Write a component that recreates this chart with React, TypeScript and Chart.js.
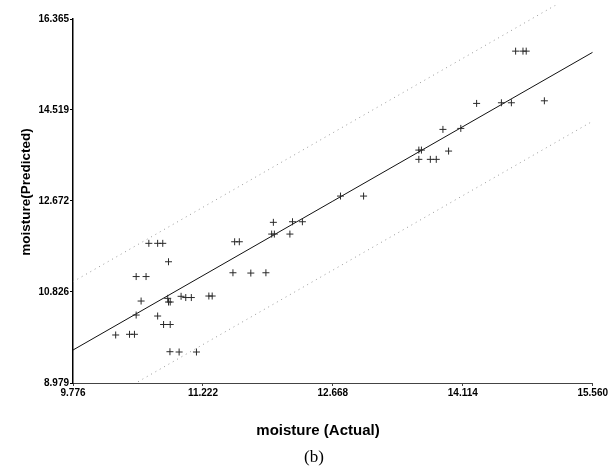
import React, { useEffect, useRef } from "react";
import { Chart, registerables } from "chart.js";

Chart.register(...registerables);

const xTickValues = [9.776, 11.222, 12.668, 14.114, 15.56];
const yTickValues = [8.979, 10.826, 12.672, 14.519, 16.365];

const actual = [
  10.251, 10.405, 10.46, 10.479, 10.479, 10.589, 10.534, 10.62, 10.718, 10.775,
  10.718, 10.784, 10.858, 10.839, 10.83, 10.839, 10.858, 10.855, 10.957, 11.15,
  10.979, 11.031, 11.093, 11.288, 11.325, 11.556, 11.575, 11.627, 11.755, 11.923,
  11.987, 12.017, 12.006, 12.19, 12.219, 12.329, 12.753, 13.01, 13.625, 13.753,
  13.819, 13.625, 13.654, 13.956, 13.893, 14.092, 14.268, 14.544, 14.655, 15.022,
  14.702, 14.784, 14.82,
];
const predicted = [
  9.953, 9.967, 9.967, 10.358, 11.139, 11.139, 10.642, 11.813, 11.813, 11.813,
  10.338, 10.166, 10.166, 11.439, 10.697, 10.622, 10.622, 9.614, 9.608, 9.608,
  10.738, 10.713, 10.713, 10.744, 10.744, 11.216, 11.845, 11.845, 11.21, 11.216,
  12.001, 12.001, 12.239, 12.001, 12.251, 12.251, 12.772, 12.772, 13.517, 13.517,
  13.517, 13.705, 13.705, 13.685, 14.125, 14.145, 14.652, 14.665, 14.665, 14.705,
  15.713, 15.713, 15.713,
];

const lineX = [9.776, 15.56];
const fitY = [9.648, 15.69];
const upperY = [11.034, 17.078];
const lowerY = [8.248, 14.292];

const xTitle = "moisture (Actual)";
const yTitle = "moisture(Predicted)";
const caption = "(b)";

const textPlugin = {
  id: "extraText",
  afterDraw(chart: any) {
    const ctx = chart.ctx;
    ctx.save();
    ctx.fillStyle = "#000";
    ctx.textAlign = "center";
    ctx.textBaseline = "middle";
    ctx.font = 'bold 15px "Liberation Sans", Arial, sans-serif';
    ctx.fillText(xTitle, 318, 431);
    ctx.font = '17px "Liberation Serif", "Times New Roman", serif';
    ctx.fillText(caption, 314, 458);
    ctx.translate(26, 192);
    ctx.rotate(-Math.PI / 2);
    ctx.font = 'bold 13.5px "Liberation Sans", Arial, sans-serif';
    ctx.fillText(yTitle, 0, 0);
    ctx.restore();
  },
};

export default function App() {
  const ref = useRef<HTMLCanvasElement | null>(null);

  useEffect(() => {
    if (!ref.current) return;
    const pts = actual.map((x, i) => ({ x, y: predicted[i] }));
    const mk = (ys: number[]) => lineX.map((x, i) => ({ x, y: ys[i] }));
    const tickFont = { family: '"Liberation Sans", Arial, sans-serif', size: 10, weight: "bold" as const };
    const chart = new Chart(ref.current, {
      type: "scatter",
      data: {
        datasets: [
          {
            label: "samples",
            data: pts,
            pointStyle: "cross",
            pointRadius: 3.5,
            pointBorderWidth: 1,
            borderColor: "#2a2a2a",
            backgroundColor: "#2a2a2a",
          },
          {
            label: "fit",
            data: mk(fitY),
            showLine: true,
            pointRadius: 0,
            borderColor: "#111",
            borderWidth: 1,
          },
          {
            label: "upper",
            data: mk(upperY),
            showLine: true,
            pointRadius: 0,
            borderColor: "#999",
            borderWidth: 1,
            borderDash: [1, 4],
            clip: { left: 0, top: 14, right: 0, bottom: 0 },
          },
          {
            label: "lower",
            data: mk(lowerY),
            showLine: true,
            pointRadius: 0,
            borderColor: "#999",
            borderWidth: 1,
            borderDash: [1, 4],
          },
        ],
      },
      options: {
        responsive: false,
        animation: false,
        events: [],
        layout: { padding: { top: 19, right: 12, left: 0, bottom: 0 } },
        plugins: { legend: { display: false }, tooltip: { enabled: false } },
        scales: {
          x: {
            type: "linear",
            min: xTickValues[0],
            max: xTickValues[xTickValues.length - 1],
            afterBuildTicks: (s: any) => {
              s.ticks = xTickValues.map((v) => ({ value: v }));
            },
            afterFit: (s: any) => {
              s.height = 85;
            },
            ticks: {
              autoSkip: false,
              maxRotation: 0,
              padding: 1,
              color: "#000",
              font: tickFont,
              callback: (v: any) => Number(v).toFixed(3),
            },
            grid: { display: true, drawOnChartArea: false, tickLength: 3, color: "#444" },
            border: { display: true, color: "#444", width: 1 },
          },
          y: {
            type: "linear",
            min: yTickValues[0],
            max: yTickValues[yTickValues.length - 1],
            afterBuildTicks: (s: any) => {
              s.ticks = yTickValues.map((v) => ({ value: v }));
            },
            afterFit: (s: any) => {
              s.width = 73;
            },
            ticks: {
              autoSkip: false,
              padding: 1,
              color: "#000",
              font: tickFont,
              callback: (v: any) => Number(v).toFixed(3),
            },
            grid: { display: true, drawOnChartArea: false, tickLength: 3, color: "#000" },
            border: { display: true, color: "#000", width: 1.5 },
          },
        },
      },
      plugins: [textPlugin],
    });
    return () => chart.destroy();
  }, []);

  return (
    <div style={{ position: "absolute", left: 0, top: 0, width: 609, height: 468, background: "#fff" }}>
      <canvas ref={ref} width={609} height={468} />
    </div>
  );
}
